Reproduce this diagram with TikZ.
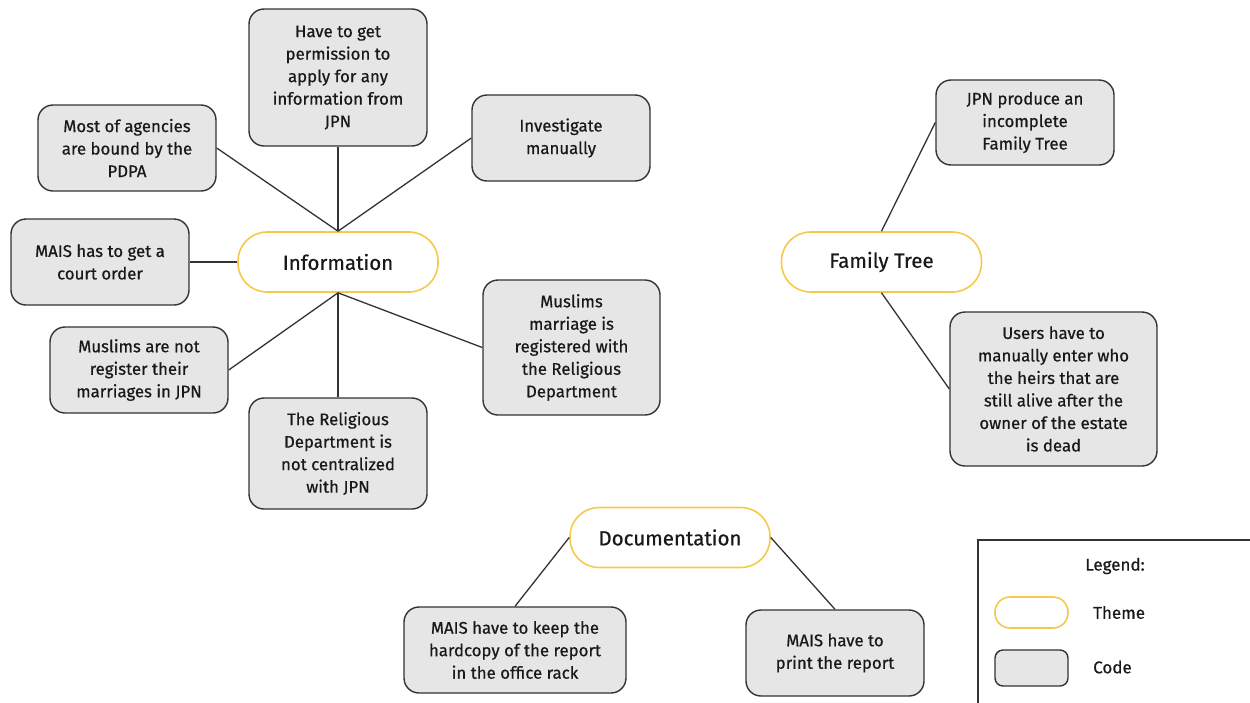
\documentclass[tikz,border=0pt]{standalone}
\usepackage{fontspec}
\setmainfont{Fira Sans}[FakeBold=0.6]
\definecolor{codefill}{HTML}{E6E6E6}
\definecolor{codeline}{HTML}{333333}
\definecolor{themeline}{HTML}{F7C948}
\begin{document}
\begin{tikzpicture}[x=1pt,y=-1pt,
  code/.style={draw=codeline,line width=1.4pt,fill=codefill,rounded corners=15pt,
    align=center,inner sep=0pt,font=\fontsize{16.8}{22.5}\selectfont,text=black!90},
  theme/.style={draw=themeline,line width=1.6pt,fill=white,rounded corners=29pt,
    minimum width=200pt,minimum height=60pt,inner sep=0pt,font=\fontsize{20.5}{24}\selectfont,text=black!90},
  link/.style={draw=codeline,line width=1.3pt},
  lbl/.style={font=\fontsize{17}{20}\selectfont,text=black!90,inner sep=0pt}]
\useasboundingbox (0,0) rectangle (1250,702);
% themes
\node[theme] (info) at (338,262) {Information};
\node[theme] (fam) at (881.5,262) {Family Tree};
\node[theme] (doc) at (670,537.5) {Documentation};
% codes
\node[code,minimum width=178pt,minimum height=86pt] (b1) at (127,148) {Most of agencies\\are bound by the\\PDPA};
\node[code,minimum width=178pt,minimum height=137pt] (b2) at (338,77.5) {Have to get\\permission to\\apply for any\\information from\\JPN};
\node[code,minimum width=178pt,minimum height=86pt] (b3) at (561,138) {Investigate\\manually};
\node[code,minimum width=178pt,minimum height=86pt] (b4) at (100,262) {MAIS has to get a\\court order};
\node[code,minimum width=178pt,minimum height=86pt] (b5) at (139,370) {Muslims are not\\register their\\marriages in JPN};
\node[code,minimum width=178pt,minimum height=111pt] (b6) at (338,453.5) {The Religious\\Department is\\not centralized\\with JPN};
\node[code,minimum width=177pt,minimum height=135pt] (b7) at (571.5,347.5) {Muslims\\marriage is\\registered with\\the Religious\\Department};
\node[code,minimum width=178pt,minimum height=85pt] (b8) at (1025,122.5) {JPN produce an\\incomplete\\Family Tree};
\node[code,minimum width=207pt,minimum height=154pt] (b9) at (1053.5,389) {Users have to\\manually enter who\\the heirs that are\\still alive after the\\owner of the estate\\is dead};
\node[code,minimum width=222pt,minimum height=86pt] (b10) at (515,650) {MAIS have to keep the\\hardcopy of the report\\in the office rack};
\node[code,minimum width=178pt,minimum height=86pt] (b11) at (835,653) {MAIS have to\\print the report};
% connectors
\draw[link] (info.north) -- (b1.east);
\draw[link] (info.north) -- (b2.south);
\draw[link] (info.north) -- (b3.west);
\draw[link] (info.west) -- (b4.east);
\draw[link] (info.south) -- (b5.east);
\draw[link] (info.south) -- (b6.north);
\draw[link] (info.south) -- (b7.west);
\draw[link] (fam.north) -- (b8.west);
\draw[link] (fam.south) -- (b9.west);
\draw[link] (doc.west) -- (b10.north);
\draw[link] (doc.east) -- (b11.north);
% legend
\draw[draw=codeline,line width=1.3pt] (978,703) -- (978,540) -- (1251,540);
\node[lbl] (legt) at (1115,566) {Legend:};
\node[draw=themeline,line width=1.6pt,fill=white,rounded corners=15pt,minimum width=73pt,minimum height=31pt,inner sep=0pt] (legth) at (1031.5,612.5) {};
\node[code,minimum width=73pt,minimum height=36pt,rounded corners=8pt] (legco) at (1031.5,668) {};
\node[lbl,anchor=west] (legthl) at (1093,612.5) {Theme};
\node[lbl,anchor=west] (legcol) at (1093,667) {Code};
\end{tikzpicture}
\end{document}
